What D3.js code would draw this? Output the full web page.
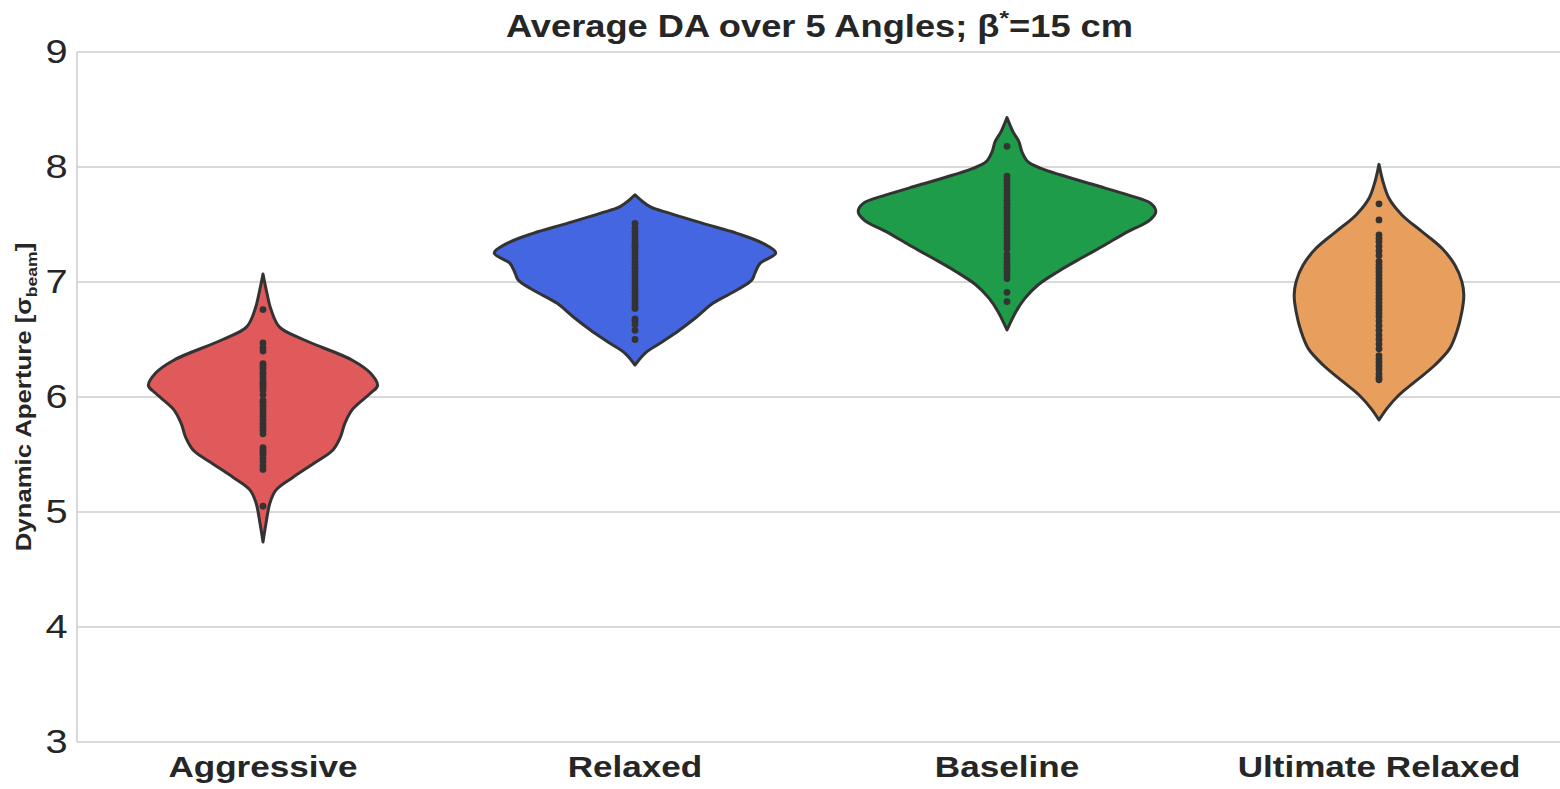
<!DOCTYPE html>
<html><head><meta charset="utf-8">
<script src="https://cdn.jsdelivr.net/npm/d3@7"></script>
<style>body{margin:0;background:#fff;} svg{display:block;font-family:"Liberation Sans",Arial,sans-serif;}</style>
</head><body>
<svg id="chart" width="1560" height="789"></svg>
<script>
const categories = ["Aggressive", "Relaxed", "Baseline", "Ultimate Relaxed"];
const colors = ["#e0595b", "#4466e0", "#1e9c4a", "#e89e5d"];
const yTicks = [3, 4, 5, 6, 7, 8, 9];

// Violin outlines: [value, relative half-width]
const profileAggressive = [[7.07,0],[6.90,0.027],[6.76,0.054],[6.61,0.11],[6.50,0.27],[6.32,0.60],[6.21,0.72],[6.10,0.77],[6.03,0.72],[5.89,0.60],[5.77,0.55],[5.65,0.52],[5.54,0.47],[5.43,0.35],[5.30,0.20],[5.19,0.087],[5.08,0.047],[4.90,0.02],[4.74,0]];
const profileRelaxed = [[7.757,0],[7.655,0.10],[7.597,0.235],[7.51,0.456],[7.423,0.685],[7.336,0.86],[7.252,0.946],[7.162,0.84],[7.075,0.805],[7.017,0.785],[6.93,0.685],[6.815,0.523],[6.698,0.416],[6.583,0.30],[6.467,0.168],[6.38,0.067],[6.278,0]];
const profileBaseline = [[8.429,0],[8.307,0.04],[8.22,0.08],[8.133,0.10],[8.046,0.14],[7.988,0.228],[7.93,0.362],[7.843,0.59],[7.757,0.812],[7.684,0.966],[7.612,1.0],[7.539,0.96],[7.438,0.812],[7.322,0.658],[7.206,0.497],[7.09,0.342],[6.974,0.208],[6.858,0.12],[6.742,0.06],[6.583,0]];
const profileUltimate = [[8.023,0],[7.872,0.027],[7.728,0.067],[7.583,0.154],[7.438,0.289],[7.293,0.423],[7.148,0.51],[7.003,0.557],[6.887,0.57],[6.742,0.557],[6.568,0.523],[6.423,0.476],[6.278,0.376],[6.133,0.242],[6.017,0.134],[5.901,0.054],[5.80,0]];

const pointsAggressive = [6.76,6.47,6.43,6.40,6.29,6.27,6.25,6.22,6.20,6.17,6.14,6.12,6.10,6.08,6.06,6.02,5.97,5.95,5.92,5.89,5.86,5.83,5.80,5.77,5.74,5.71,5.68,5.56,5.54,5.52,5.50,5.47,5.44,5.40,5.37,5.05];
const pointsRelaxed = [7.51,7.47,7.44,7.41,7.38,7.35,7.32,7.30,7.27,7.24,7.21,7.18,7.15,7.12,7.09,7.06,7.03,7.00,6.97,6.94,6.91,6.88,6.85,6.82,6.79,6.77,6.68,6.66,6.63,6.58,6.50];
const pointsBaseline = [8.18,7.92,7.89,7.86,7.83,7.80,7.77,7.74,7.71,7.68,7.65,7.62,7.59,7.56,7.53,7.50,7.47,7.44,7.41,7.38,7.35,7.32,7.29,7.24,7.21,7.18,7.15,7.12,7.09,7.06,7.03,6.91,6.83];
const pointsUltimate = [7.68,7.54,7.41,7.38,7.35,7.31,7.27,7.23,7.18,7.15,7.12,7.09,7.06,7.03,7.00,6.97,6.94,6.91,6.88,6.85,6.82,6.79,6.76,6.73,6.70,6.66,6.62,6.58,6.54,6.50,6.46,6.42,6.36,6.33,6.30,6.27,6.24,6.20,6.17,6.15];

const profiles = [profileAggressive, profileRelaxed, profileBaseline, profileUltimate];
const points = [pointsAggressive, pointsRelaxed, pointsBaseline, pointsUltimate];

const svg = d3.select("#chart");
const margin = {left: 77, right: -5, top: 52, bottom: 47};
const W = 1560, H = 789;
const SX = 1.17; // horizontal stretch of the text in the reference

const x = d3.scaleBand().domain(categories).range([margin.left, W - margin.right]).padding(0);
const y = d3.scaleLinear().domain([3, 9]).range([H - margin.bottom, margin.top]);
const w = d3.scaleLinear().domain([0, 1]).range([0, x.bandwidth() * 0.4]);

// grid
svg.append("g").selectAll("line").data(yTicks.slice(1)).join("line")
  .attr("x1", margin.left).attr("x2", W).attr("y1", d => y(d)).attr("y2", d => y(d))
  .attr("stroke", "#cccccc").attr("stroke-width", 1.3);

// spines
svg.append("line").attr("x1", margin.left).attr("x2", margin.left).attr("y1", y(9)).attr("y2", y(3))
  .attr("stroke", "#cccccc").attr("stroke-width", 1.5);
svg.append("line").attr("x1", margin.left).attr("x2", W).attr("y1", y(3)).attr("y2", y(3))
  .attr("stroke", "#cccccc").attr("stroke-width", 1.5);

// y axis
const yAxis = d3.axisLeft(y).tickValues(yTicks).tickSize(0).tickPadding(8).tickFormat(d3.format("d"));
const gy = svg.append("g").attr("transform", `translate(${margin.left},0)`).call(yAxis);
gy.select(".domain").remove();
gy.selectAll("text").attr("font-size", 34).attr("fill", "#262626")
  .attr("font-family", "Liberation Sans, Arial, sans-serif")
  .attr("transform", `scale(${SX},1)`);

// x axis
const xAxis = d3.axisBottom(x).tickSize(0).tickPadding(14);
const gx = svg.append("g").attr("transform", `translate(0,${y(3)})`).call(xAxis);
gx.select(".domain").remove();
gx.selectAll("text").attr("font-size", 30).attr("font-weight", "bold").attr("fill", "#262626")
  .attr("font-family", "Liberation Sans, Arial, sans-serif")
  .attr("transform", `scale(${SX},1)`);

// violins
categories.forEach((c, i) => {
  const cx = x(c) + x.bandwidth() / 2;
  const area = d3.area()
    .y(d => y(d[0]))
    .x0(d => cx - w(d[1]))
    .x1(d => cx + w(d[1]))
    .curve(d3.curveCatmullRom.alpha(0.5));
  svg.append("path").datum(profiles[i]).attr("d", area)
    .attr("fill", colors[i]).attr("stroke", "#333333").attr("stroke-width", 3)
    .attr("stroke-linejoin", "round");
  svg.append("g").selectAll("circle").data(points[i]).join("circle")
    .attr("cx", cx).attr("cy", d => y(d)).attr("r", 3.4).attr("fill", "#333333");
});

// title
const title = svg.append("text")
  .attr("transform", `translate(${(margin.left + W) / 2 + 1},37) scale(${SX},1)`)
  .attr("text-anchor", "middle")
  .attr("font-size", 31).attr("font-weight", "bold").attr("fill", "#262626")
  .text("Average DA over 5 Angles; β");
title.append("tspan").attr("dy", -12).attr("font-size", 21).text("*");
title.append("tspan").attr("dy", 12).attr("font-size", 31).text("=15 cm");

// y label
const yl = svg.append("text").attr("transform", `translate(31,397) rotate(-90) scale(${SX},1)`)
  .attr("text-anchor", "middle")
  .attr("font-size", 22).attr("font-weight", "bold").attr("fill", "#262626")
  .text("Dynamic Aperture [σ");
yl.append("tspan").attr("dy", 6).attr("font-size", 15).text("beam");
yl.append("tspan").attr("dy", -6).attr("font-size", 22).text("]");
</script>
</body></html>
